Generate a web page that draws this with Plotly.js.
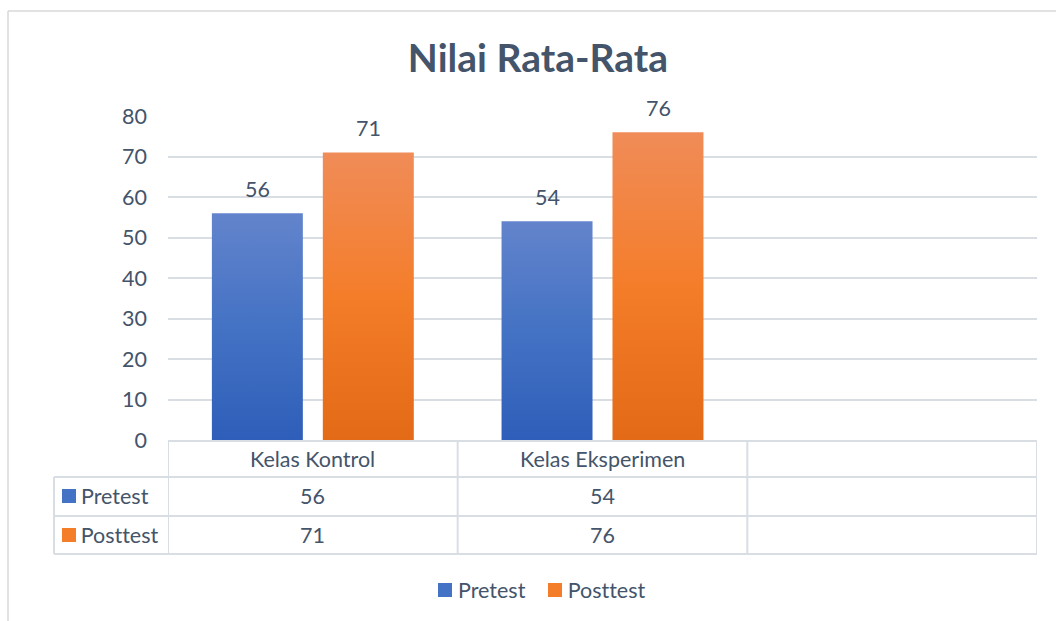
<!DOCTYPE html>
<html><head><meta charset="utf-8">
<script src="https://cdn.plot.ly/plotly-3.0.1.min.js"></script>
<style>html,body{margin:0;padding:0;background:#fff;} #chart{width:1056px;height:621px;} #chart text{font-variant-ligatures:none;font-feature-settings:"liga" 0;}</style>
</head><body><div id="chart"></div>
<script>
// ---- data ----
const categories = ['Kelas Kontrol', 'Kelas Eksperimen'];
const seriesNames = ['Pretest', 'Posttest'];
const pretest = [56, 54];
const posttest = [71, 76];
const yTicks = [0, 10, 20, 30, 40, 50, 60, 70, 80];
const chartTitle = 'Nilai Rata-Rata';

// ---- layout helpers (pixel geometry) ----
const W = 1056, H = 621, L = 168, R = 1037, T = 116, B = 440;
const px = x => (x - L) / (R - L);
const py = y => (B - y) / (B - T);
const textColor = '#44546a', gridColor = '#d9dde4', frameColor = '#d9d9d9';
const FONT = 'Lato, "Open Sans", sans-serif';
const colors = ['#4472c4', '#f47d2a'];
const series = [pretest, posttest];

const traces = series.map((vals, i) => ({
  type: 'bar', name: seriesNames[i], x: categories, y: vals,
  marker: {color: colors[i], line: {width: 0}}, hoverinfo: 'skip', showlegend: false
}));

const shapes = [];
const annotations = [];
const line = (xref, x0, x1, yref, y0, y1, color, w) => shapes.push({type: 'line', xref, yref, x0, x1, y0, y1, line: {color, width: w}, layer: 'above'});

// frame
line('paper', px(8), px(8), 'paper', py(11), py(640), frameColor, 1.5);
line('paper', px(8), px(1070), 'paper', py(11), py(11), frameColor, 1.5);

// data table grid
const rowY = [441, 477, 516, 554];
line('x', -0.5, 2.5, 'paper', py(rowY[0]), py(rowY[0]), gridColor, 2);
for (let r = 1; r < rowY.length; r++) line('paper', px(54), 1, 'paper', py(rowY[r]), py(rowY[r]), gridColor, 2);
[-0.5, 0.5, 1.5, 2.5].forEach(c => line('x', c, c, 'paper', py(rowY[0]), py(rowY[3]), gridColor, 2));
line('paper', px(54), px(54), 'paper', py(rowY[1]), py(rowY[3]), gridColor, 2);

const tfont = {family: FONT, size: 21.5, color: textColor};
// header
categories.forEach((c, i) => annotations.push({xref: 'x', yref: 'paper', x: i, y: py(459), text: c, showarrow: false, font: tfont, xanchor: 'center', yanchor: 'middle'}));
// rows
const rowCenters = [496, 535];
series.forEach((vals, r) => {
  shapes.push({type: 'rect', xref: 'paper', yref: 'paper', x0: px(62), x1: px(76), y0: py(rowCenters[r] - 7), y1: py(rowCenters[r] + 7), fillcolor: colors[r], line: {width: 0}});
  annotations.push({xref: 'paper', yref: 'paper', x: px(79), y: py(rowCenters[r]), text: seriesNames[r], showarrow: false, font: tfont, xanchor: 'left', yanchor: 'middle'});
  vals.forEach((v, i) => annotations.push({xref: 'x', yref: 'paper', x: i, y: py(rowCenters[r]), text: String(v), showarrow: false, font: tfont, xanchor: 'center', yanchor: 'middle'}));
});

// legend (bottom)
const legendItems = [{sq: 438, tx: 456}, {sq: 548, tx: 566}];
seriesNames.forEach((n, r) => {
  shapes.push({type: 'rect', xref: 'paper', yref: 'paper', x0: px(legendItems[r].sq), x1: px(legendItems[r].sq + 14), y0: py(597), y1: py(583), fillcolor: colors[r], line: {width: 0}});
  annotations.push({xref: 'paper', yref: 'paper', x: px(legendItems[r].tx), y: py(590), text: n, showarrow: false, font: tfont, xanchor: 'left', yanchor: 'middle'});
});

// bar value labels
const off = 55.5;
series.forEach((vals, r) => vals.forEach((v, i) => annotations.push({
  xref: 'x', yref: 'y', x: categories[i], y: v, text: String(v), showarrow: false,
  xshift: r === 0 ? -off : off, yshift: 9, yanchor: 'bottom', font: tfont
})));

const layout = {
  width: W, height: H,
  margin: {l: L, r: W - R, t: T, b: H - B, pad: 0},
  paper_bgcolor: '#ffffff', plot_bgcolor: '#ffffff',
  font: {family: FONT, color: textColor},
  title: {text: '<b>' + chartTitle + '</b>', font: {family: FONT, size: 39, color: textColor}, xref: 'container', x: 538 / W, xanchor: 'center', y: 1 - 58 / H, yanchor: 'middle'},
  barmode: 'group', bargap: 0.234, bargroupgap: 0.18,
  xaxis: {type: 'category', range: [-0.5, 2.5], showticklabels: false, showgrid: false, zeroline: false, showline: false, ticks: ''},
  yaxis: {range: [0, 80], tickvals: yTicks, ticktext: yTicks.map(String), showgrid: true, gridcolor: gridColor, gridwidth: 2, zeroline: false, showline: false, ticks: '', ticklabelstandoff: 20, tickfont: {family: FONT, size: 21.5, color: textColor}},
  showlegend: false,
  shapes, annotations
};

Plotly.newPlot('chart', traces, layout, {staticPlot: true, displayModeBar: false}).then(gd => {
  const NS = 'http://www.w3.org/2000/svg';
  const svg = gd.querySelector('.main-svg');
  let defs = svg.querySelector('defs');
  if (!defs) { defs = document.createElementNS(NS, 'defs'); svg.insertBefore(defs, svg.firstChild); }
  const grads = [['gPre', ['#6384cc', '#4472c4', '#2e5eb9']], ['gPost', ['#f08c58', '#f47d2a', '#e36a17']]];
  grads.forEach(([id, st]) => {
    const g = document.createElementNS(NS, 'linearGradient');
    g.setAttribute('id', id); g.setAttribute('x1', '0'); g.setAttribute('y1', '0'); g.setAttribute('x2', '0'); g.setAttribute('y2', '1');
    st.forEach((c, k) => { const s = document.createElementNS(NS, 'stop'); s.setAttribute('offset', (k / (st.length - 1)).toString()); s.setAttribute('stop-color', c); g.appendChild(s); });
    defs.appendChild(g);
  });
  gd.querySelectorAll('.barlayer .trace').forEach((t, i) => t.querySelectorAll('path').forEach(p => p.style.fill = 'url(#' + grads[i][0] + ')'));
});
</script>
</body></html>
